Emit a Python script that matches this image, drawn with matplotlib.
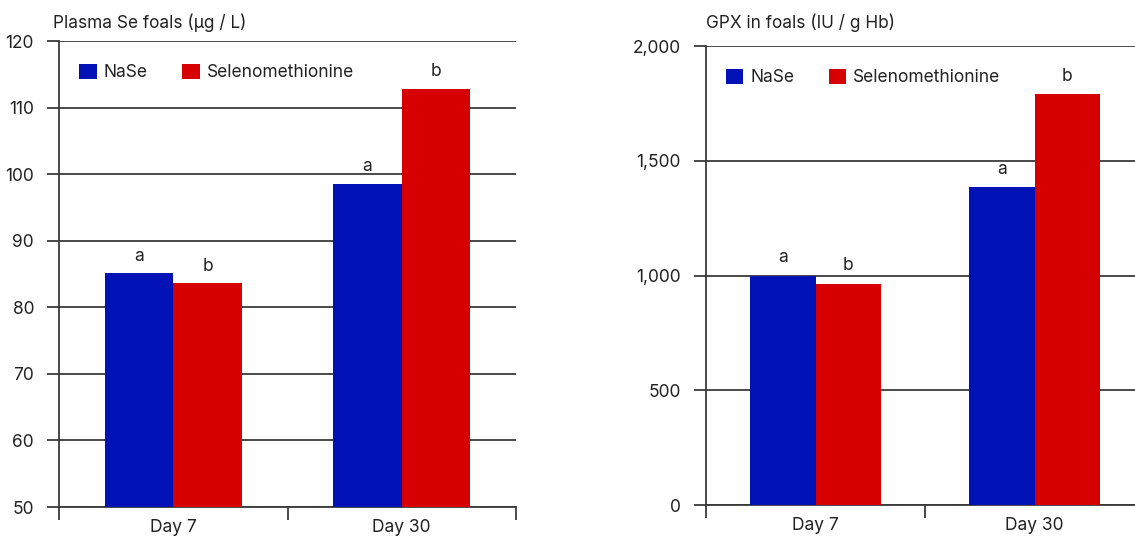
import numpy as np
import matplotlib
matplotlib.use('Agg')
import matplotlib.pyplot as plt

# data
days = ['Day 7', 'Day 30']
series = ['NaSe', 'Selenomethionine']
plasma_nase = [85.1, 98.5]
plasma_seleno = [83.6, 112.8]
gpx_nase = [1000, 1387]
gpx_seleno = [965, 1791]
letters_nase = ['a', 'a']
letters_seleno = ['b', 'b']

blue = '#0012B6'
red = '#D70000'
ink = '#222222'
line = '#3a3a3a'

plt.rcParams['font.family'] = ['Inter', 'DejaVu Sans']

fig = plt.figure(figsize=(11.35, 5.37), dpi=100)
ax1 = fig.add_axes([59 / 1135, 1 - 507 / 537, 457 / 1135, 466 / 537])
ax2 = fig.add_axes([706 / 1135, 1 - 505 / 537, 438 / 1135, 459 / 537])


def draw(ax, nase, seleno, ylim, yticks, fmt, title, title_x, title_pad, off, leg_x):
    x = np.arange(len(days))
    w = 0.30
    ax.bar(x - w / 2, [v - ylim[0] for v in nase], w, bottom=ylim[0],
           color=blue, label=series[0], zorder=3)
    ax.bar(x + w / 2, [v - ylim[0] for v in seleno], w, bottom=ylim[0],
           color=red, label=series[1], zorder=3)
    for i in range(len(days)):
        ax.text(x[i] - w / 2, nase[i] + off, letters_nase[i], ha='center',
                va='bottom', fontsize=12.5, color=ink)
        ax.text(x[i] + w / 2, seleno[i] + off, letters_seleno[i], ha='center',
                va='bottom', fontsize=12.5, color=ink)
    ax.set_xlim(-0.5, len(days) - 0.5)
    ax.set_ylim(*ylim)
    ax.set_yticks(yticks)
    ax.set_yticklabels([fmt(t) for t in yticks])
    ax.set_xticks(x)
    ax.set_xticklabels(days)
    ax.set_xticks([-0.5, 0.5, 1.5], minor=True)
    ax.tick_params(axis='x', which='major', length=0, pad=9, labelsize=12.5, labelcolor=ink)
    ax.tick_params(axis='x', which='minor', length=9, width=1.3, color=line, direction='out')
    ax.tick_params(axis='y', length=9, width=1.3, color=line, labelsize=12.5,
                   labelcolor=ink, pad=9)
    ax.yaxis.grid(True, color=line, lw=1.3, zorder=1)
    ax.set_axisbelow(True)
    for s in ['top', 'right']:
        ax.spines[s].set_visible(False)
    for s in ['left', 'bottom']:
        ax.spines[s].set_color(line)
        ax.spines[s].set_linewidth(1.3)
    ax.set_title(title, loc='left', x=title_x, fontsize=12.4, color=ink, pad=title_pad)
    ax.legend(loc='upper left', bbox_to_anchor=(leg_x, 0.985), ncol=2, frameon=False,
              fontsize=12.5, handlelength=1.0, handleheight=1.0, columnspacing=2.0,
              handletextpad=0.4, labelcolor=ink)


draw(ax1, plasma_nase, plasma_seleno, (50, 120), list(range(50, 121, 10)),
     lambda t: f'{t}', 'Plasma Se foals (µg / L)', -0.013, 9, 1.3, 0.01)
draw(ax2, gpx_nase, gpx_seleno, (0, 2000), list(range(0, 2001, 500)),
     lambda t: f'{t:,}', 'GPX in foals (IU / g Hb)', 0.0, 13, 40, 0.01)

fig.savefig('out.png', dpi=100)
